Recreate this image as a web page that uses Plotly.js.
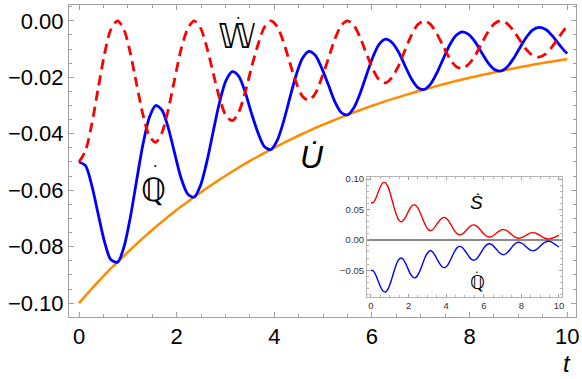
<!DOCTYPE html>
<html>
<head>
<meta charset="utf-8">
<script src="https://cdn.plot.ly/plotly-3.0.1.min.js"></script>
<style>
  body { margin: 0; background: #fff; }
  #chart { width: 582px; height: 379px; }
</style>
</head>
<body>
<div id="chart"></div>
<script>
// time samples (about pi/24 apart)
const tVals = [0, 0.13, 0.26, 0.39, 0.52, 0.65, 0.79, 0.92, 1.05, 1.18, 1.31, 1.44, 1.57, 1.70,
  1.83, 1.96, 2.09, 2.23, 2.36, 2.49, 2.62, 2.75, 2.88, 3.01, 3.14, 3.27, 3.40, 3.53, 3.67,
  3.80, 3.93, 4.06, 4.19, 4.32, 4.45, 4.58, 4.71, 4.84, 4.97, 5.11, 5.24, 5.37, 5.50, 5.63,
  5.76, 5.89, 6.02, 6.15, 6.28, 6.41, 6.55, 6.68, 6.81, 6.94, 7.07, 7.20, 7.33, 7.46, 7.59,
  7.72, 7.85, 7.98, 8.12, 8.25, 8.38, 8.51, 8.64, 8.77, 8.90, 9.03, 9.16, 9.29, 9.42, 9.56,
  9.69, 9.82, 9.95, 10];

// U dot (orange)
const uDot = [-0.1, -0.09742, -0.0949, -0.09245, -0.09006, -0.08773, -0.08546, -0.08326,
  -0.08111, -0.07901, -0.07697, -0.07498, -0.07304, -0.07115, -0.06932, -0.06752, -0.06578,
  -0.06408, -0.06242, -0.06081, -0.05924, -0.05771, -0.05622, -0.05477, -0.05335, -0.05197,
  -0.05063, -0.04932, -0.04805, -0.0468, -0.04559, -0.04442, -0.04327, -0.04215, -0.04106,
  -0.04, -0.03897, -0.03796, -0.03698, -0.03602, -0.03509, -0.03419, -0.0333, -0.03244,
  -0.0316, -0.03079, -0.02999, -0.02922, -0.02846, -0.02773, -0.02701, -0.02631, -0.02563,
  -0.02497, -0.02432, -0.0237, -0.02308, -0.02249, -0.02191, -0.02134, -0.02079, -0.02025,
  -0.01973, -0.01922, -0.01872, -0.01824, -0.01777, -0.01731, -0.01686, -0.01642, -0.016,
  -0.01559, -0.01518, -0.01479, -0.01441, -0.01404, -0.01367, -0.01353];

// W dot (red dashed)
const wDot = [-0.05, -0.04618, -0.03673, -0.02422, -0.01197, -0.00317, 0, -0.00309,
  -0.01138, -0.02246, -0.03322, -0.04074, -0.04303, -0.03955, -0.03132, -0.02056, -0.01012,
  -0.00267, 0, -0.00258, -0.00947, -0.01862, -0.02746, -0.03356, -0.03534, -0.03238,
  -0.02557, -0.01673, -0.00821, -0.00216, 0, -0.00208, -0.00761, -0.01494, -0.02197, -0.0268,
  -0.02816, -0.02575, -0.02029, -0.01325, -0.00649, -0.00171, 0, -0.00164, -0.00598,
  -0.01171, -0.0172, -0.02094, -0.02197, -0.02007, -0.01579, -0.0103, -0.00504, -0.00132, 0,
  -0.00127, -0.00462, -0.00903, -0.01325, -0.01612, -0.01689, -0.01541, -0.01211, -0.0079,
  -0.00386, -0.00101, 0, -0.00097, -0.00352, -0.00688, -0.01009, -0.01227, -0.01285,
  -0.01171, -0.0092, -0.00599, -0.00293, -0.00193];

// Q dot (blue), also shown in the inset
const qDot = [-0.05, -0.05123, -0.05817, -0.06823, -0.07809, -0.08456, -0.08546, -0.08017,
  -0.06972, -0.05655, -0.04375, -0.03424, -0.03001, -0.0316, -0.038, -0.04697, -0.05566,
  -0.06141, -0.06242, -0.05823, -0.04977, -0.03909, -0.02876, -0.0212, -0.01801, -0.01959,
  -0.02506, -0.03259, -0.03983, -0.04464, -0.04559, -0.04234, -0.03566, -0.02722, -0.01909,
  -0.0132, -0.01081, -0.01221, -0.01669, -0.02277, -0.0286, -0.03248, -0.0333, -0.03081,
  -0.02563, -0.01908, -0.0128, -0.00827, -0.00649, -0.00766, -0.01122, -0.01601, -0.02059,
  -0.02365, -0.02432, -0.02243, -0.01847, -0.01346, -0.00866, -0.00522, -0.00389, -0.00484,
  -0.00761, -0.01132, -0.01486, -0.01723, -0.01777, -0.01634, -0.01334, -0.00954, -0.00591,
  -0.00332, -0.00234, -0.00308, -0.00521, -0.00805, -0.01075, -0.01161];

// S dot (inset, red)
const sDot = [0.061, 0.06132, 0.06833, 0.07869, 0.08846, 0.09412, 0.0935, 0.08624, 0.07378,
  0.05889, 0.04485, 0.03457, 0.02984, 0.03097, 0.03672, 0.04476, 0.05233, 0.05698, 0.05717,
  0.05267, 0.04447, 0.03451, 0.02511, 0.0183, 0.01538, 0.01655, 0.02096, 0.02698, 0.03266,
  0.03626, 0.03669, 0.03377, 0.0282, 0.02134, 0.01485, 0.01019, 0.00828, 0.00928, 0.0126,
  0.01707, 0.0213, 0.02403, 0.02449, 0.02251, 0.01862, 0.01378, 0.00919, 0.00591, 0.00461,
  0.00542, 0.0079, 0.01122, 0.01437, 0.01643, 0.01683, 0.01546, 0.01268, 0.0092, 0.0059,
  0.00355, 0.00264, 0.00326, 0.00512, 0.00759, 0.00994, 0.01149, 0.01181, 0.01084, 0.00882,
  0.0063, 0.00389, 0.00218, 0.00153, 0.00202, 0.0034, 0.00524, 0.00699, 0.00754];

const mainTicksX = [0, 2, 4, 6, 8, 10];
const mainTicksY = [0, -0.02, -0.04, -0.06, -0.08, -0.10];
const insetTicksY = [0.10, 0.05, 0, -0.05];

const frameColor = '#a0a0a0';
const sans = 'Liberation Sans, Arial, sans-serif';
const math = 'DejaVu Sans, sans-serif';

function frameAxis(extra) {
  return Object.assign({
    showline: true, mirror: 'allticks', linecolor: frameColor, linewidth: 1,
    ticks: 'inside', tickcolor: frameColor, showgrid: false, zeroline: false,
    fixedrange: true
  }, extra);
}

function curve(y, color, width, xa, ya, dash) {
  return {
    x: tVals, y: y, xaxis: xa, yaxis: ya, type: 'scatter', mode: 'lines',
    line: {color: color, width: width, shape: 'spline', smoothing: 0.8, dash: dash || 'solid'},
    hoverinfo: 'skip'
  };
}

function label(text, x, y, size, family, xref, yref, italic) {
  const font = {family: family, size: size, color: '#000'};
  if (italic) font.style = 'italic';
  return {text: text, x: x, y: y, xref: xref, yref: yref, showarrow: false,
    xanchor: 'center', yanchor: 'middle', font: font};
}

const traces = [
  curve(uDot, '#ff8c00', 2.5, 'x', 'y'),
  curve(qDot, '#0000ff', 2.8, 'x', 'y'),
  curve(wDot, '#ff0000', 2.8, 'x', 'y', '10px,6px'),
  curve(sDot, '#ff0000', 1.4, 'x2', 'y2'),
  curve(qDot, '#0000ff', 1.4, 'x2', 'y2')
];

// axis label t sits in the bottom right corner, kept inside the page
const tLabel = label('t', 0.982, -0.1987, 24, sans, 'paper', 'paper', true);
tLabel.yanchor = 'bottom';

const layout = {
  width: 582, height: 379,
  margin: {l: 69, r: 6, t: 5, b: 62},
  paper_bgcolor: '#fff', plot_bgcolor: '#fff',
  showlegend: false,
  xaxis: frameAxis({
    range: [-0.205, 10.18], tickvals: mainTicksX, ticklen: 5,
    minor: {dtick: 0.5, tick0: 0, ticklen: 3, tickcolor: frameColor, ticks: 'inside'},
    tickfont: {family: sans, size: 22, color: '#000'}
  }),
  yaxis: frameAxis({
    range: [-0.1049, 0.0056], tickvals: mainTicksY, tickformat: '.2f', ticklen: 5,
    minor: {dtick: 0.005, tick0: 0, ticklen: 3, tickcolor: frameColor, ticks: 'inside'},
    tickfont: {family: sans, size: 22, color: '#000'}
  }),
  xaxis2: frameAxis({
    anchor: 'y2', domain: [0.5878, 0.9724], range: [-0.21, 10.16],
    tickvals: mainTicksX, ticklen: 3, linecolor: '#b4b4b4',
    minor: {dtick: 0.5, tick0: 0, ticklen: 2, tickcolor: '#b4b4b4', ticks: 'inside'},
    tickfont: {family: sans, size: 9.5, color: '#333'}
  }),
  yaxis2: frameAxis({
    anchor: 'x2', domain: [0.0641, 0.4487], range: [-0.094, 0.1033],
    tickvals: insetTicksY, tickformat: '.2f', ticklen: 3, linecolor: '#b4b4b4',
    minor: {dtick: 0.01, tick0: 0, ticklen: 2, tickcolor: '#b4b4b4', ticks: 'inside'},
    zeroline: true, zerolinecolor: '#8a8a8a', zerolinewidth: 1.5,
    tickfont: {family: sans, size: 9.5, color: '#333'}
  }),
  annotations: [
    label('\u{1D54E}', 3.24, -0.0055, 34, math, 'x', 'y'),
    label('\u2022', 3.26, 0.0010, 7, sans, 'x', 'y'),
    label('\u211A', 1.52, -0.0600, 32, math, 'x', 'y'),
    label('\u2022', 1.56, -0.0512, 7, sans, 'x', 'y'),
    label('U\u0307', 4.77, -0.0483, 32, sans, 'x', 'y', true),
    label('S\u0307', 5.59, 0.061, 19, sans, 'x2', 'y2', true),
    label('\u211A', 5.64, -0.069, 19, math, 'x2', 'y2'),
    label('\u2022', 5.64, -0.0525, 5, sans, 'x2', 'y2'),
    tLabel
  ]
};

Plotly.newPlot('chart', traces, layout, {displayModeBar: false, staticPlot: true});
</script>
</body>
</html>
